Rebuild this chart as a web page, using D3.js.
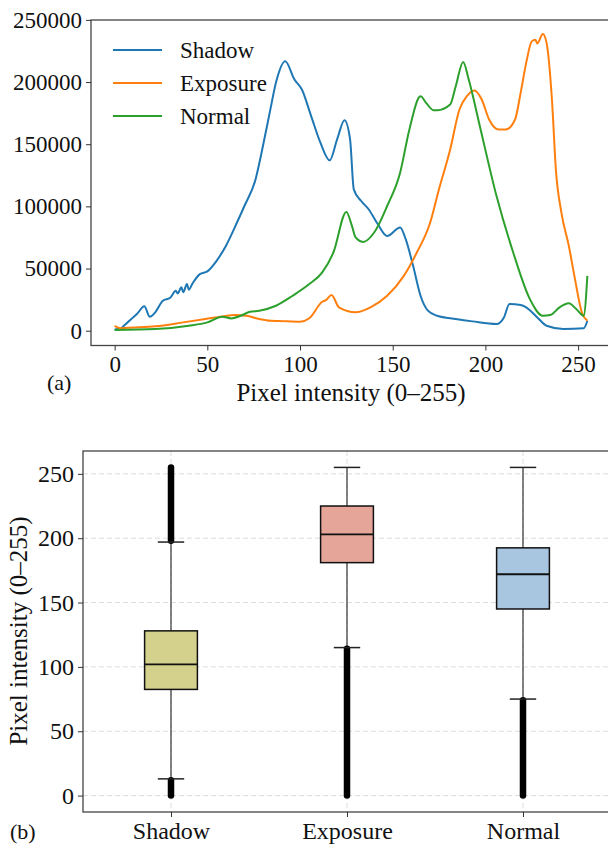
<!DOCTYPE html>
<html>
<head>
<meta charset="utf-8">
<script src="https://cdn.jsdelivr.net/npm/d3@7"></script>
<style>
    body { margin: 0; background: #fff; }
    svg text { font-family: "Liberation Serif", "Times New Roman", serif; fill: #111; }
</style>
</head>
<body>
<div id="myDiv"></div>
<script>
// ---- panel (a): histograms ----
var shadowX = [0, 3, 5, 9, 12, 16, 19, 22, 26, 30, 33, 34, 36, 37, 39, 40, 42, 46, 50, 55, 60, 66, 70, 76, 80, 84, 87, 92, 97, 101, 106, 111, 116, 120, 124, 127, 129, 133, 137, 142, 147, 154, 157, 161, 165, 169, 174, 184, 193, 206, 210, 213, 219, 222, 228, 233, 242, 253, 255];
var shadowY = [1000, 1500, 4000, 9500, 13400, 19600, 11200, 15000, 24100, 26500, 32100, 30000, 35000, 31000, 37500, 33000, 38000, 45500, 47700, 56200, 68200, 87000, 100300, 121700, 148500, 178000, 199400, 216700, 202000, 194000, 172600, 151200, 137000, 153900, 169300, 153900, 113700, 104300, 97700, 85600, 76200, 83000, 73600, 52200, 28100, 16100, 12000, 9400, 7500, 5400, 10700, 21400, 20600, 18800, 10700, 4000, 1400, 1900, 8000];

var exposureX = [0, 1, 3, 10, 22, 37, 49, 58, 65, 71, 78, 84, 89, 100, 105, 112, 114, 117, 121, 130, 138, 147, 156, 163, 170, 175, 181, 186, 190, 194, 198, 202, 207, 211, 216, 219, 222, 225, 227, 228, 231, 233, 236, 238, 241, 245, 248, 252, 255];
var exposureY = [4000, 3000, 2000, 2500, 3500, 6700, 9400, 11500, 12600, 12000, 9400, 8000, 7800, 7200, 10000, 23300, 24600, 28700, 18800, 14800, 18800, 28100, 44100, 62900, 86000, 114000, 145800, 177900, 188600, 193200, 186000, 169900, 161900, 161900, 169900, 191300, 215400, 232700, 234100, 231000, 238700, 231500, 183300, 129800, 95000, 68200, 44100, 14800, 8000];

var normalX = [0, 22, 40, 50, 58, 63, 68, 73, 78, 87, 96, 105, 112, 118, 125, 128, 130, 134, 140, 147, 154, 159, 165, 168, 172, 174, 181, 184, 188, 191, 197, 206, 215, 224, 231, 235, 240, 245, 249, 253, 255];
var normalY = [600, 1300, 4000, 6700, 11200, 9900, 12000, 15200, 16100, 20100, 28100, 37500, 46900, 62900, 95500, 84300, 75000, 71400, 79000, 100300, 127100, 161900, 188600, 183300, 177400, 177400, 182000, 196600, 216200, 202000, 164500, 108300, 62900, 25400, 12000, 12600, 18800, 22000, 17400, 12000, 44100];

var seriesNames = ["Shadow", "Exposure", "Normal"];
var seriesColors = ["#1f77b4", "#ff7f0e", "#2ca02c"];
var countTicks = [0, 50000, 100000, 150000, 200000, 250000];
var intensityTicks = [0, 50, 100, 150, 200, 250];

// ---- panel (b): box plots ----
var boxCategories = ["Shadow", "Exposure", "Normal"];
var boxQ1 = [82.5, 181, 145];
var boxMedian = [102, 203, 172];
var boxQ3 = [128, 225, 192.5];
var whiskerLow = [13, 115, 75];
var whiskerHigh = [197, 255, 255];
var outlierRanges = [[[0, 12], [198, 255]], [[0, 114]], [[0, 74]]];
var boxColors = ["#d4d18c", "#e5a598", "#a9c6e1"];
var boxTicks = [0, 50, 100, 150, 200, 250];

var svg = d3.select("#myDiv").append("svg")
    .attr("width", 608)
    .attr("height", 844);

function styleAxis(g, size) {
    g.selectAll(".domain").remove();
    g.selectAll(".tick line").attr("stroke", "#333").attr("stroke-width", 1);
    g.selectAll(".tick text")
        .attr("font-family", "Liberation Serif")
        .attr("font-size", size + "px")
        .attr("fill", "#111");
}

// ================= (a) =================
var xTop = d3.scaleLinear().domain([-12.75, 267.75]).range([91, 611]);
var yTop = d3.scaleLinear().domain([-11900, 249900]).range([345.5, 20]);

var topSeries = [
    { xs: shadowX, ys: shadowY },
    { xs: exposureX, ys: exposureY },
    { xs: normalX, ys: normalY }
];

var line = d3.line()
    .x(function (d) { return xTop(d[0]); })
    .y(function (d) { return yTop(d[1]); })
    .curve(d3.curveMonotoneX);

var topPlot = svg.append("g");
topSeries.forEach(function (s, i) {
    var pts = s.xs.map(function (x, j) { return [x, s.ys[j]]; });
    topPlot.append("path")
        .datum(pts)
        .attr("d", line)
        .attr("fill", "none")
        .attr("stroke", seriesColors[i])
        .attr("stroke-width", 2)
        .attr("stroke-linejoin", "round");
});

// spines
svg.append("rect")
    .attr("x", 91).attr("y", 20)
    .attr("width", 520).attr("height", 325.5)
    .attr("fill", "none")
    .attr("stroke", "#444")
    .attr("stroke-width", 1.3);

svg.append("g")
    .attr("transform", "translate(91,0)")
    .call(d3.axisLeft(yTop).tickValues(countTicks).tickFormat(d3.format("d")).tickSize(5).tickPadding(4))
    .call(styleAxis, 23);

svg.append("g")
    .attr("transform", "translate(0,345.5)")
    .call(d3.axisBottom(xTop).tickValues(intensityTicks).tickSize(5).tickPadding(5))
    .call(styleAxis, 23);

svg.append("text")
    .attr("x", 351).attr("y", 401)
    .attr("text-anchor", "middle")
    .attr("font-size", "25px")
    .text("Pixel intensity (0\u2013255)");

svg.append("text")
    .attr("x", 47).attr("y", 390)
    .attr("font-size", "22px")
    .text("(a)");

// legend
var legend = svg.append("g");
seriesNames.forEach(function (name, i) {
    var ly = 50 + i * 33;
    legend.append("line")
        .attr("x1", 113).attr("x2", 162)
        .attr("y1", ly).attr("y2", ly)
        .attr("stroke", seriesColors[i])
        .attr("stroke-width", 2);
    legend.append("text")
        .attr("x", 180).attr("y", ly + 8)
        .attr("font-size", "23px")
        .text(name);
});

// ================= (b) =================
var xBot = d3.scaleLinear().domain([0.5, 3.5]).range([83, 611]);
var yBot = d3.scaleLinear().domain([-12.75, 267.75]).range([812, 451]);
var boxW = xBot(1.15) - xBot(1);
var capW = xBot(1.075) - xBot(1);

var grid = svg.append("g");
grid.selectAll(".hgrid")
    .data(boxTicks)
    .enter().append("line")
    .attr("x1", 83).attr("x2", 611)
    .attr("y1", function (d) { return yBot(d); })
    .attr("y2", function (d) { return yBot(d); })
    .attr("stroke", "#dcdcdc")
    .attr("stroke-width", 1)
    .attr("stroke-dasharray", "5,3");
grid.selectAll(".vgrid")
    .data(boxCategories)
    .enter().append("line")
    .attr("x1", function (d, i) { return xBot(i + 1); })
    .attr("x2", function (d, i) { return xBot(i + 1); })
    .attr("y1", 451).attr("y2", 812)
    .attr("stroke", "#dcdcdc")
    .attr("stroke-width", 1)
    .attr("stroke-dasharray", "5,3");

var boxes = svg.append("g");
boxCategories.forEach(function (c, i) {
    var cx = xBot(i + 1);
    // whiskers
    boxes.append("line")
        .attr("x1", cx).attr("x2", cx)
        .attr("y1", yBot(boxQ1[i])).attr("y2", yBot(whiskerLow[i]))
        .attr("stroke", "#333").attr("stroke-width", 1.2);
    boxes.append("line")
        .attr("x1", cx).attr("x2", cx)
        .attr("y1", yBot(boxQ3[i])).attr("y2", yBot(whiskerHigh[i]))
        .attr("stroke", "#333").attr("stroke-width", 1.2);
    // outliers (dense, drawn as a thick run of markers)
    outlierRanges[i].forEach(function (r) {
        boxes.append("line")
            .attr("x1", cx).attr("x2", cx)
            .attr("y1", yBot(r[0])).attr("y2", yBot(r[1]))
            .attr("stroke", "#000")
            .attr("stroke-width", 6.5)
            .attr("stroke-linecap", "round");
    });
    // caps
    [whiskerLow[i], whiskerHigh[i]].forEach(function (v) {
        boxes.append("line")
            .attr("x1", cx - capW).attr("x2", cx + capW)
            .attr("y1", yBot(v)).attr("y2", yBot(v))
            .attr("stroke", "#222").attr("stroke-width", 1.5);
    });
    // box
    boxes.append("rect")
        .attr("x", cx - boxW)
        .attr("y", yBot(boxQ3[i]))
        .attr("width", boxW * 2)
        .attr("height", yBot(boxQ1[i]) - yBot(boxQ3[i]))
        .attr("fill", boxColors[i])
        .attr("stroke", "#111")
        .attr("stroke-width", 1.5);
    boxes.append("line")
        .attr("x1", cx - boxW).attr("x2", cx + boxW)
        .attr("y1", yBot(boxMedian[i])).attr("y2", yBot(boxMedian[i]))
        .attr("stroke", "#111").attr("stroke-width", 1.8);
});

svg.append("rect")
    .attr("x", 83).attr("y", 451)
    .attr("width", 528).attr("height", 361)
    .attr("fill", "none")
    .attr("stroke", "#444")
    .attr("stroke-width", 1.3);

svg.append("g")
    .attr("transform", "translate(83,0)")
    .call(d3.axisLeft(yBot).tickValues(boxTicks).tickSize(5).tickPadding(4))
    .call(styleAxis, 24);

svg.append("g")
    .attr("transform", "translate(0,812)")
    .call(d3.axisBottom(xBot).tickValues([1, 2, 3])
        .tickFormat(function (d) { return boxCategories[d - 1]; })
        .tickSize(5).tickPadding(5))
    .call(styleAxis, 24);

svg.append("text")
    .attr("transform", "translate(27,631) rotate(-90)")
    .attr("text-anchor", "middle")
    .attr("font-size", "25px")
    .text("Pixel intensity (0\u2013255)");

svg.append("text")
    .attr("x", 10).attr("y", 839)
    .attr("font-size", "22px")
    .text("(b)");
</script>
</body>
</html>
